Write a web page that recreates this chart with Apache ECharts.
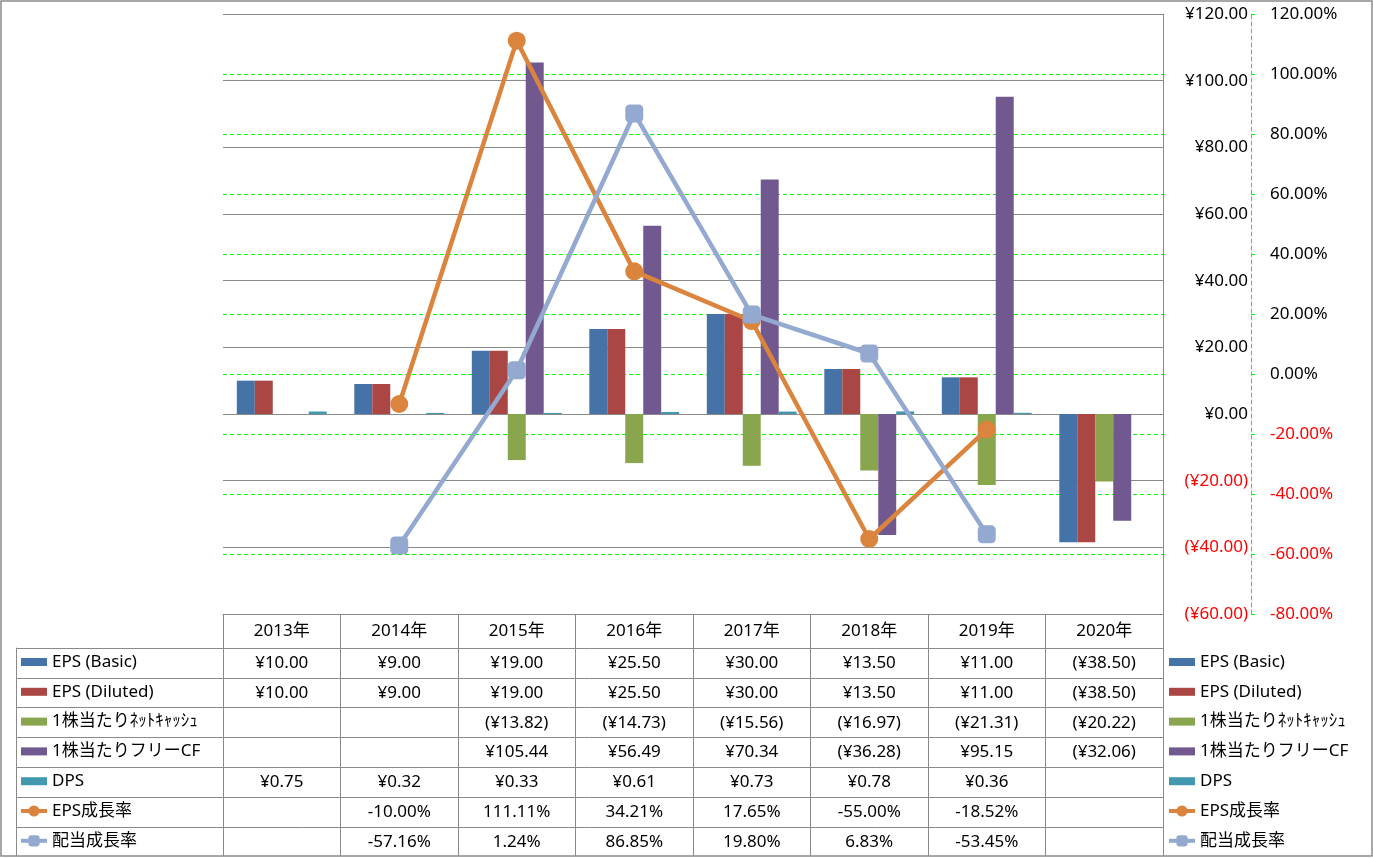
<!DOCTYPE html>
<html><head><meta charset="utf-8">
<script src="https://cdn.jsdelivr.net/npm/echarts@6/dist/echarts.min.js"></script>
<style>html,body{margin:0;padding:0;background:#fff}#c{width:1373px;height:858px}</style>
</head><body><div id="c"></div>
<script>
const categories = ['2013年','2014年','2015年','2016年','2017年','2018年','2019年','2020年'];
const seriesNames = ['EPS (Basic)','EPS (Diluted)','1株当たりﾈｯﾄｷｬｯｼｭ','1株当たりフリーCF','DPS','EPS成長率','配当成長率'];
const epsBasic   = [10.00, 9.00, 19.00, 25.50, 30.00, 13.50, 11.00, -38.50];
const epsDiluted = [10.00, 9.00, 19.00, 25.50, 30.00, 13.50, 11.00, -38.50];
const netCash    = [null, null, -13.82, -14.73, -15.56, -16.97, -21.31, -20.22];
const freeCF     = [null, null, 105.44, 56.49, 70.34, -36.28, 95.15, -32.06];
const dps        = [0.75, 0.32, 0.33, 0.61, 0.73, 0.78, 0.36, null];
const epsGrowth  = [null, -10.00, 111.11, 34.21, 17.65, -55.00, -18.52, null];
const divGrowth  = [null, -57.16, 1.24, 86.85, 19.80, 6.83, -53.45, null];
const yenTicks = {min: -60, max: 120, interval: 20};
const pctTicks = {min: -80, max: 120, interval: 20};

const FONT = '"Noto Sans", "Noto Sans CJK JP", sans-serif';
const GRAY = '#8a8a8a';
const GREEN = '#00ff00';
const colors = ['#4572A7','#AA4643','#89A54E','#71588F','#4198AF','#DB843D','#93A9CF'];
const barData = [epsBasic, epsDiluted, netCash, freeCF, dps];
const lineData = [epsGrowth, divGrowth];

function yen(v){ if(v==null) return ''; v=Number(v); return v<0 ? '(¥'+Math.abs(v).toFixed(2)+')' : '¥'+v.toFixed(2); }
function pct(v){ if(v==null) return ''; return Number(v).toFixed(2)+'%'; }
function negRed(v){ return Number(v) < 0 ? '#ff0000' : '#000000'; }

const chart = echarts.init(document.getElementById('c'), null, {renderer:'canvas'});

const GRID = {left:223, right:210, top:14, bottom:244};
const series = [];
barData.forEach((d,i)=>{
  series.push({name: seriesNames[i], type:'bar', data:d, yAxisIndex:0,
    barGap:'0%', barCategoryGap:'23.5%', itemStyle:{color:colors[i]}});
});
lineData.forEach((d,j)=>{
  const i = 5+j;
  series.push({name: seriesNames[i], type:'line', data:d, yAxisIndex:1,
    symbol: j===0 ? 'circle' : 'roundRect', symbolSize:18, z:5,
    lineStyle:{color:colors[i], width:4.5}, itemStyle:{color:colors[i]}});
});

const barIcon = 'path://M0,0M26,14M0,3L26,3L26,11L0,11Z';
const legendData = seriesNames.map((n,i)=> i<5 ? {name:n, icon:barIcon} : {name:n});
const legendCommon = {orient:'vertical', top:652, itemWidth:26, itemHeight:14, itemGap:9.8, padding:0,
  data: legendData, lineStyle:{width:4}, textStyle:{fontSize:17, fontFamily:FONT, color:'#000', lineHeight:20}};

chart.setOption({
  animation:false,
  textStyle:{fontFamily:FONT},
  grid: GRID,
  xAxis: {type:'category', data:categories, position:'bottom',
    axisLine:{show:true, onZero:false, lineStyle:{color:GRAY, width:1}},
    axisTick:{show:true, length:242, interval:0, lineStyle:{color:GRAY, width:1}},
    axisLabel:{fontSize:17, fontFamily:FONT, color:'#000', margin:9, lineHeight:17, interval:0},
    splitLine:{show:false}},
  yAxis: [
    {type:'value', position:'right', min:yenTicks.min, max:yenTicks.max, interval:yenTicks.interval,
      axisLine:{show:true, lineStyle:{color:GRAY, width:1}}, axisTick:{show:false},
      axisLabel:{align:'right', margin:85, fontSize:17, fontFamily:FONT, color:negRed, formatter:yen},
      splitLine:{show:true, lineStyle:{color:GRAY, width:1}}},
    {type:'value', position:'right', offset:88, min:pctTicks.min, max:pctTicks.max, interval:pctTicks.interval,
      axisLine:{show:true, lineStyle:{color:GREEN, width:1, type:[4,3]}},
      axisTick:{show:true, length:4, lineStyle:{color:GREEN, width:1}},
      axisLabel:{margin:19, fontSize:17, fontFamily:FONT, color:negRed, formatter:pct},
      splitLine:{show:true, showMinLine:false, showMaxLine:false, lineStyle:{color:GREEN, width:1, type:[4,3]}}}
  ],
  legend: [
    Object.assign({left:19}, legendCommon),
    Object.assign({left:1167}, legendCommon)
  ],
  series: series
});

// data table built from the same arrays, x positions from the category axis
const rowTop = 647.7, rowH = 29.8, tableLeft = 16, tableRight = 1373 - GRID.right;
const rowFormat = [yen, yen, yen, yen, yen, pct, pct];
const rowValues = [epsBasic, epsDiluted, netCash, freeCF, dps, epsGrowth, divGrowth];
const g = [];
g.push({type:'rect', shape:{x:1, y:1, width:1371, height:855}, style:{fill:'none', stroke:GRAY, lineWidth:1.5}, silent:true});
for (let r=0; r<7; r++){
  const y = Math.round(rowTop + r*rowH) + 0.5;
  g.push({type:'line', shape:{x1:tableLeft, y1:y, x2:tableRight, y2:y}, style:{stroke:GRAY, lineWidth:1}, silent:true});
}
g.push({type:'line', shape:{x1:tableLeft+0.5, y1:rowTop, x2:tableLeft+0.5, y2:856}, style:{stroke:GRAY, lineWidth:1}, silent:true});
rowValues.forEach((arr,r)=>{
  arr.forEach((v,c)=>{
    if (v==null) return;
    const x = chart.convertToPixel({xAxisIndex:0}, categories[c]);
    g.push({type:'text', x:x, y:rowTop + r*rowH + rowH/2 + 0.5, silent:true,
      style:{text: rowFormat[r](v), fontSize:17, fontFamily:FONT, fill:'#000', align:'center', verticalAlign:'middle'}});
  });
});
chart.setOption({graphic: g});
</script></body></html>
